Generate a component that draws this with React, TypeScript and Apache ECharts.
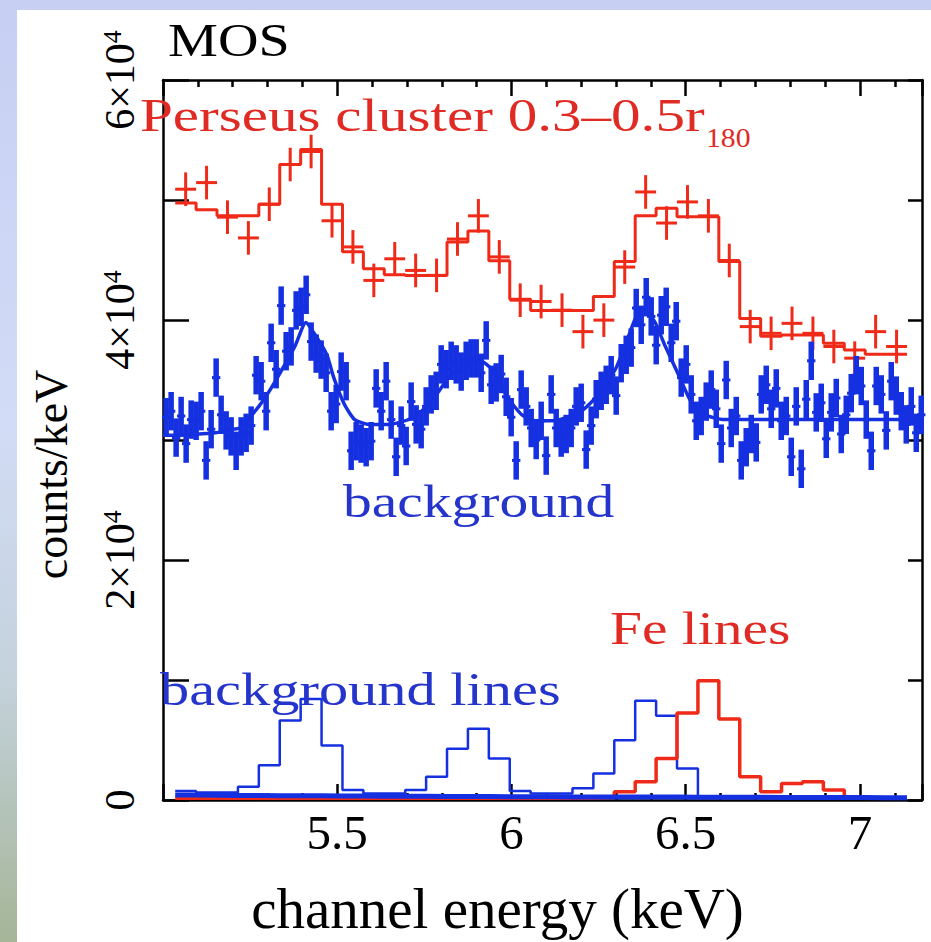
import React, { useEffect, useRef } from 'react';
import * as echarts from 'echarts';

// ---------- axes ----------
const X_MIN = 5.0;
const X_MAX = 7.178;
const X_TICK_LABELS = [5.5, 6, 6.5, 7];
const Y_MAX = 60000;
const Y_TICK_LABELS = [0, 20000, 40000, 60000];

// ---------- 0.06 keV bins (Perseus data, model, line components) ----------
const BIN_START = 5.065; // centre of first bin (keV)
const BIN_WIDTH = 0.06;

// Perseus cluster 0.3-0.5 r180 spectrum (counts/keV)
const perseusData = [50900, 51450, 48570, 46840, 49650, 52960, 54040, 48270, 46090, 43300, 45100, 44130, 43720, 46750, 48680, 45260, 41650, 41540, 40820, 39030, 39990, 44410, 50670, 48080, 49840, 48680, 44960, 39450, 38890, 39720, 38890, 37790, 36820, 39030, 37790];
const PERSEUS_ERR = 1400;
// best-fit model (step)
const perseusModel = [49750, 49180, 48680, 48680, 49650, 52960, 54200, 49650, 45680, 44270, 43780, 43700, 43700, 46500, 47420, 44930, 41730, 40800, 40800, 40800, 41950, 44880, 48680, 49320, 48600, 48600, 44880, 40130, 38640, 38750, 38750, 38070, 37510, 37150, 37150];
// background lines component
const backgroundLines = [745, 620, 620, 1100, 2900, 6620, 8420, 4550, 830, 550, 550, 830, 1930, 4280, 5930, 3450, 745, 550, 550, 970, 2210, 4970, 8280, 7030, 2620, 280, 250, 250, 250, 250, 250, 230, 230, 230, 230];
// Fe lines component
const feLines = [150, 150, 150, 150, 150, 150, 150, 150, 150, 150, 150, 150, 150, 150, 150, 150, 150, 150, 150, 150, 200, 690, 1515, 3450, 7260, 9930, 6760, 1930, 690, 1380, 1515, 830, 150, 150, 150];
// continuum components near zero
const continuum = [420, 400, 380, 370, 360, 350, 350, 340, 330, 320, 320, 310, 300, 300, 290, 280, 280, 270, 260, 260, 250, 250, 240, 240, 230, 230, 220, 220, 210, 210, 200, 200, 200, 190, 190];

// ---------- background spectrum (fine channels) ----------
const BG_X0 = 5.009;
const BG_DX = 0.01435;
const BG_ERR = 1600;
const BG_HALF = 0.012;
const backgroundData = [
  31900, 32400, 30200, 32000, 29700, 31700, 31600, 32400, 28300, 30900,
  35200, 32100, 30800, 30300, 29100, 30300, 30600, 31200, 35400, 34900,
  32400, 38100, 35900, 41200, 37400, 37800, 40800, 41100, 42100, 38200,
  37200, 36700, 35600, 32400, 33000, 35700, 34900, 29100, 29900, 29700,
  29400, 29900, 34300, 32400, 34900, 31700, 28600, 31200, 29500, 33200,
  31300, 30900, 32800, 33800, 34100, 36300, 35900, 36600, 36300, 35700,
  36600, 36800, 36800, 35600, 38300, 34600, 34800, 35500, 33600, 31900,
  28300, 34200, 32800, 31000, 30000, 31600, 28700, 33800, 31000, 30200,
  30500, 31000, 32800, 33100, 29200, 31200, 33400, 34100, 34600, 35400,
  33700, 36400, 37100, 37700, 41000, 39600, 41900, 40300, 37900, 40400,
  41100, 38100, 39900, 35200, 36300, 33800, 31600, 32000, 33200, 34200,
  32600, 29700, 35000, 31000, 32000, 28300, 29400, 30500, 29800, 33800,
  34600, 32600, 34300, 31600, 32000, 28600, 32800, 27600, 33400, 36600,
  32300, 33100, 30100, 32300, 33500, 30500, 32100, 33900, 35400, 34500,
  31700, 29100, 34500, 33800, 30800, 34900, 33700, 32400, 31300, 32800,
  30600, 32100,
];
// background model curve
const bgModelX = [5.00, 5.05, 5.10, 5.15, 5.20, 5.22, 5.275, 5.31, 5.35, 5.38, 5.41, 5.44, 5.47, 5.49, 5.52, 5.55, 5.59, 5.65, 5.72, 5.77, 5.82, 5.87, 5.91, 5.95, 5.99, 6.03, 6.07, 6.12, 6.20, 6.25, 6.30, 6.33, 6.36, 6.38, 6.41, 6.44, 6.48, 6.515, 6.555, 6.61, 6.80, 7.00, 7.178];
const bgModelY = [30400, 30400, 30500, 30600, 30900, 31000, 32800, 34300, 36300, 37900, 39800, 38600, 37100, 35200, 33000, 31700, 31300, 31300, 31900, 33200, 35200, 36300, 36600, 35700, 33500, 32100, 31600, 31600, 32400, 33800, 36000, 38200, 40400, 40700, 39900, 37900, 35400, 33200, 32100, 31700, 31700, 31700, 31700];

// ---------- styles ----------
const RED = '#f02a18';
const BLUE = '#1530e0';
const RED_TEXT = '#e02a24';
const BLUE_TEXT = '#2535cc';
const SERIF = '"Liberation Serif", "Times New Roman", serif';

const stepData = (vals: number[]) => {
  const d: number[][] = vals.map((v, i) => [BIN_START - BIN_WIDTH / 2 + i * BIN_WIDTH, v]);
  d.push([BIN_START - BIN_WIDTH / 2 + vals.length * BIN_WIDTH, vals[vals.length - 1]]);
  return d;
};

const errRender = (color: string, vw: number, hw: number) => (params: any, api: any) => {
  const x = api.value(0);
  const y = api.value(1);
  const e = api.value(2);
  const h = api.value(3);
  const c = api.coord([x, y]);
  const t = api.coord([x, y + e]);
  const b = api.coord([x, y - e]);
  const l = api.coord([x - h, y]);
  const r = api.coord([x + h, y]);
  return {
    type: 'group',
    children: [
      { type: 'line', shape: { x1: c[0], y1: t[1], x2: c[0], y2: b[1] }, style: { stroke: color, lineWidth: vw } },
      { type: 'line', shape: { x1: l[0], y1: c[1], x2: r[0], y2: c[1] }, style: { stroke: color, lineWidth: hw } },
    ],
  };
};

const annot = (text: string, x: number, y: number, size: number, sx: number, fill: string) => ({
  type: 'text',
  z: 100,
  x,
  y,
  scaleX: sx,
  style: {
    text,
    fill,
    fontSize: size,
    fontFamily: SERIF,
    align: 'left',
    verticalAlign: 'middle',
    textAlign: 'left',
    textVerticalAlign: 'middle',
  },
});

export default function App() {
  const ref = useRef<HTMLDivElement>(null);

  useEffect(() => {
    if (!ref.current) return;
    const chart = echarts.init(ref.current, null, { renderer: 'svg' });

    const axisLineStyle = { color: '#000', width: 2.5 };
    const xCommon = {
      type: 'value',
      min: X_MIN,
      max: X_MAX,
      interval: 0.5,
      axisLine: { show: true, onZero: false, lineStyle: axisLineStyle },
      axisTick: { show: true, inside: true, length: 16, lineStyle: axisLineStyle },
      minorTick: { show: true, splitNumber: 5, length: 7, lineStyle: axisLineStyle },
      splitLine: { show: false },
      minorSplitLine: { show: false },
    };
    const yCommon = {
      type: 'value',
      min: 0,
      max: Y_MAX,
      interval: 10000,
      axisLine: { show: true, onZero: false, lineStyle: axisLineStyle },
      splitLine: { show: false },
    };

    const option: any = {
      animation: false,
      grid: { left: 163, right: 9, top: 80, bottom: 137, containLabel: false },
      xAxis: [
        {
          ...xCommon,
          position: 'bottom',
          name: 'channel energy (keV)',
          nameLocation: 'middle',
          nameGap: 80,
          nameTextStyle: { fontFamily: SERIF, fontSize: 57, color: '#000', padding: [0, 90, 0, 0] },
          axisLabel: {
            show: true,
            margin: 8,
            fontFamily: SERIF,
            fontSize: 49,
            color: '#000',
            showMinLabel: false,
            showMaxLabel: false,
            formatter: (v: number) => (X_TICK_LABELS.some((t) => Math.abs(t - v) < 1e-6) ? String(v) : ''),
          },
        },
        { ...xCommon, position: 'top', axisLabel: { show: false } },
      ],
      yAxis: [
        {
          ...yCommon,
          position: 'left',
          name: 'counts/keV',
          nameLocation: 'middle',
          nameRotate: 90,
          nameGap: 89,
          nameTextStyle: { fontFamily: SERIF, fontSize: 46, color: '#000', padding: [0, 69, 0, 0] },
          axisTick: { show: true, inside: true, length: 26, lineStyle: axisLineStyle },
          axisLabel: {
            show: true,
            rotate: 90,
            margin: 22,
            formatter: (v: number) => {
              if (!Y_TICK_LABELS.includes(v)) return '';
              if (v === 0) return '{a|0}';
              return `{a|${v / 10000}\u00d710}{b|4}`;
            },
            rich: {
              a: { fontFamily: SERIF, fontSize: 42, color: '#000', lineHeight: 42 },
              b: { fontFamily: SERIF, fontSize: 26, color: '#000', lineHeight: 26, verticalAlign: 'top' },
            },
          },
        },
        {
          ...yCommon,
          position: 'right',
          axisTick: { show: true, inside: true, length: 14, lineStyle: axisLineStyle },
          axisLabel: { show: false },
        },
      ],
      graphic: {
        elements: [
          {
            type: 'rect',
            z: -100,
            silent: true,
            shape: { x: 0, y: 0, width: 931, height: 942 },
            style: {
              fill: {
                type: 'linear', x: 0, y: 0, x2: 0, y2: 1,
                colorStops: [
                  { offset: 0, color: '#c7cff3' },
                  { offset: 0.45, color: '#d2dcf6' },
                  { offset: 0.72, color: '#c4d2dc' },
                  { offset: 1, color: '#a5b597' },
                ],
              },
            },
          },
          { type: 'rect', z: -99, silent: true, shape: { x: 17, y: 10, width: 914, height: 932 }, style: { fill: '#ffffff' } },
          annot('MOS', 168, 40, 46, 1.22, '#000'),
          annot('Perseus cluster 0.3\u20130.5r', 140, 115, 46, 1.285, RED_TEXT),
          annot('180', 706, 138, 27, 1.1, RED_TEXT),
          annot('background', 343, 502, 46, 1.25, BLUE_TEXT),
          annot('Fe lines', 610, 629, 46, 1.25, RED_TEXT),
          annot('background lines', 160, 689, 46, 1.27, BLUE_TEXT),
        ],
      },
      series: [
        {
          name: 'background lines',
          type: 'line',
          step: 'end',
          symbol: 'none',
          data: stepData(backgroundLines),
          lineStyle: { color: BLUE, width: 2.5 },
          z: 3,
        },
        {
          name: 'Fe lines',
          type: 'line',
          step: 'end',
          symbol: 'none',
          data: stepData(feLines),
          lineStyle: { color: RED, width: 3.5 },
          z: 4,
        },
        {
          name: 'continuum',
          type: 'line',
          step: 'end',
          symbol: 'none',
          data: stepData(continuum),
          lineStyle: { color: BLUE, width: 5 },
          z: 5,
        },
        {
          name: 'Perseus model',
          type: 'line',
          step: 'end',
          symbol: 'none',
          data: stepData(perseusModel),
          lineStyle: { color: RED, width: 3 },
          z: 6,
        },
        {
          name: 'Perseus data',
          type: 'custom',
          renderItem: errRender(RED, 3, 3),
          encode: { x: 0, y: 1 },
          data: perseusData.map((v, i) => [BIN_START + i * BIN_WIDTH, v, PERSEUS_ERR, BIN_WIDTH / 2]),
          z: 7,
        },
        {
          name: 'background data',
          type: 'custom',
          renderItem: errRender(BLUE, 5.5, 3),
          encode: { x: 0, y: 1 },
          data: backgroundData.map((v, i) => [BG_X0 + i * BG_DX, v, BG_ERR, BG_HALF]),
          z: 8,
        },
        {
          name: 'background model',
          type: 'line',
          symbol: 'none',
          smooth: 0.2,
          data: bgModelX.map((x, i) => [x, bgModelY[i]]),
          lineStyle: { color: BLUE, width: 3.5 },
          z: 9,
        },
      ],
    };

    chart.setOption(option);
    return () => chart.dispose();
  }, []);

  return <div ref={ref} style={{ position: 'absolute', left: 0, top: 0, width: 931, height: 942 }} />;
}
